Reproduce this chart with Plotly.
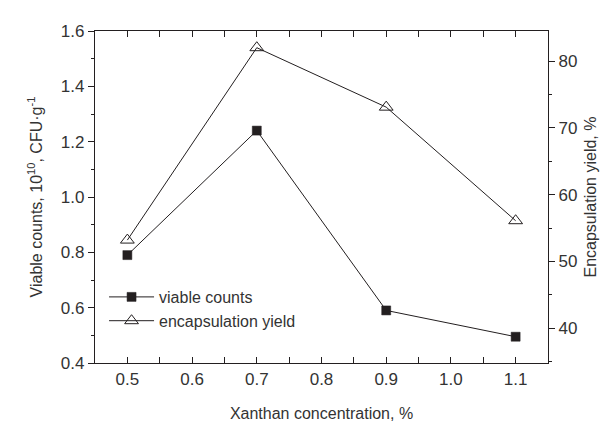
import plotly.graph_objects as go

conc = [0.5, 0.7, 0.9, 1.1]
viable_counts = [0.79, 1.24, 0.59, 0.495]
encap_yield = [53.2, 82.0, 73.1, 56.1]

x_ticks = [0.5, 0.6, 0.7, 0.8, 0.9, 1.0, 1.1]
y_ticks = [0.4, 0.6, 0.8, 1.0, 1.2, 1.4, 1.6]
y2_ticks = [40, 50, 60, 70, 80]

ink = "#231f20"
txt = "#333333"
font = "Liberation Sans, Arial, sans-serif"

fig = go.Figure()
fig.add_trace(go.Scatter(
    x=conc, y=viable_counts, name="viable counts", mode="lines+markers",
    line=dict(color=ink, width=1),
    marker=dict(symbol="square", size=9, color=ink, line=dict(color=ink, width=0.5)),
))
fig.add_trace(go.Scatter(
    x=conc, y=encap_yield, name="encapsulation yield", mode="lines+markers",
    yaxis="y2",
    line=dict(color=ink, width=1),
    marker=dict(symbol="triangle-up-open", size=12, color=ink, line=dict(color=ink, width=1)),
))

axis_common = dict(
    showline=True, linecolor=ink, linewidth=1.2, showgrid=False, zeroline=False,
    tickcolor=ink, tickwidth=1, tickfont=dict(size=17, color=txt, family=font),
)

fig.update_layout(
    width=608, height=424,
    margin=dict(l=87, r=68, t=23, b=67),
    paper_bgcolor="white", plot_bgcolor="white",
    font=dict(family=font, color=txt),
    showlegend=True,
    legend=dict(x=0.02, y=0.25, xanchor="left", yanchor="top",
                bgcolor="rgba(0,0,0,0)", font=dict(size=16, color=txt),
                tracegroupgap=0, itemwidth=45),
    xaxis=dict(
        range=[0.45, 1.15], tickvals=x_ticks, tickformat=".1f",
        ticks="inside", ticklen=6, mirror="allticks",
        minor=dict(ticks="inside", ticklen=3, tick0=0.45, dtick=0.1, tickcolor=ink),
        title=dict(text="Xanthan concentration, %", font=dict(size=16, color=txt), standoff=20),
        **axis_common,
    ),
    yaxis=dict(
        range=[0.4, 1.6], tickvals=y_ticks, tickformat=".1f",
        ticks="outside", ticklen=6,
        minor=dict(ticks="outside", ticklen=3, tick0=0.5, dtick=0.2, tickcolor=ink),
        title=dict(text="Viable counts, 10<sup>10</sup>, CFU·g<sup>-1</sup>",
                   font=dict(size=16, color=txt), standoff=14),
        **axis_common,
    ),
    yaxis2=dict(
        range=[34.8, 84.5], tickvals=y2_ticks, overlaying="y", side="right",
        ticks="outside", ticklen=6,
        minor=dict(ticks="outside", ticklen=3, tick0=35, dtick=10, tickcolor=ink),
        title=dict(text="Encapsulation yield, %", font=dict(size=16, color=txt), standoff=8),
        **axis_common,
    ),
)

fig.write_html("out.html")
